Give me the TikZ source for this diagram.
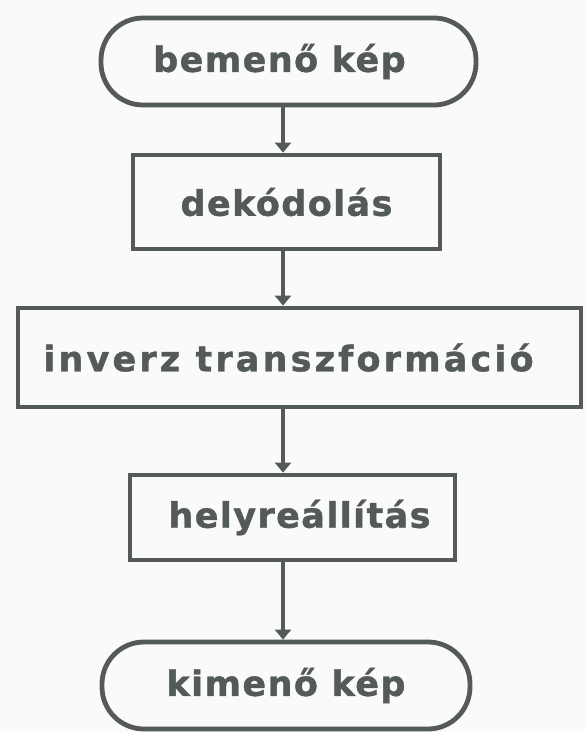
\documentclass[tikz,border=0pt]{standalone}
\usepackage{fontspec}
\newfontfamily\lblfont[LetterSpace=4,FakeBold=1.2]{DejaVu Sans Bold}
\newfontfamily\widefont[LetterSpace=9,FakeBold=1.2]{DejaVu Sans Bold}
\usetikzlibrary{arrows.meta}
\definecolor{ink}{HTML}{545A5A}
\definecolor{paper}{HTML}{FAFAF8}
\begin{document}
\begin{tikzpicture}[x=1pt,y=-1pt,
  box/.style={draw=ink, line width=4.8pt, fill=paper, inner sep=0pt,
    text=ink, font=\lblfont\fontsize{35}{40}\selectfont},
  term/.style={box, rounded corners=42pt},
  proc/.style={box},
  flow/.style={draw=ink, line width=3.5pt, -{Triangle[length=10pt,width=16pt]}}]
\fill[paper] (0,0) rectangle (585,732);
\useasboundingbox (0,0) rectangle (585,732);
\node[term, minimum width=375pt, minimum height=87pt] (in) at (288.5,61.5) {bemenő kép\hspace*{18pt}};
\node[proc, minimum width=307pt, minimum height=94pt] (dek) at (286.5,202) {dekódolás};
\node[proc, minimum width=563pt, minimum height=99pt, font=\widefont\fontsize{35}{40}\selectfont] (inv) at (299.5,357.5) {inverz transzformáció\hspace*{22pt}};
\node[proc, minimum width=325pt, minimum height=85pt] (hel) at (292.5,517.5) {\hspace*{14pt}helyreállítás};
\node[term, minimum width=368pt, minimum height=87pt] (out) at (286,685.5) {kimenő kép};
\coordinate (X) at (283,0);
\draw[flow] (in.south -| X) -- (dek.north -| X);
\draw[flow] (dek.south -| X) -- (inv.north -| X);
\draw[flow] (inv.south -| X) -- (hel.north -| X);
\draw[flow] (hel.south -| X) -- (out.north -| X);
\end{tikzpicture}
\end{document}
